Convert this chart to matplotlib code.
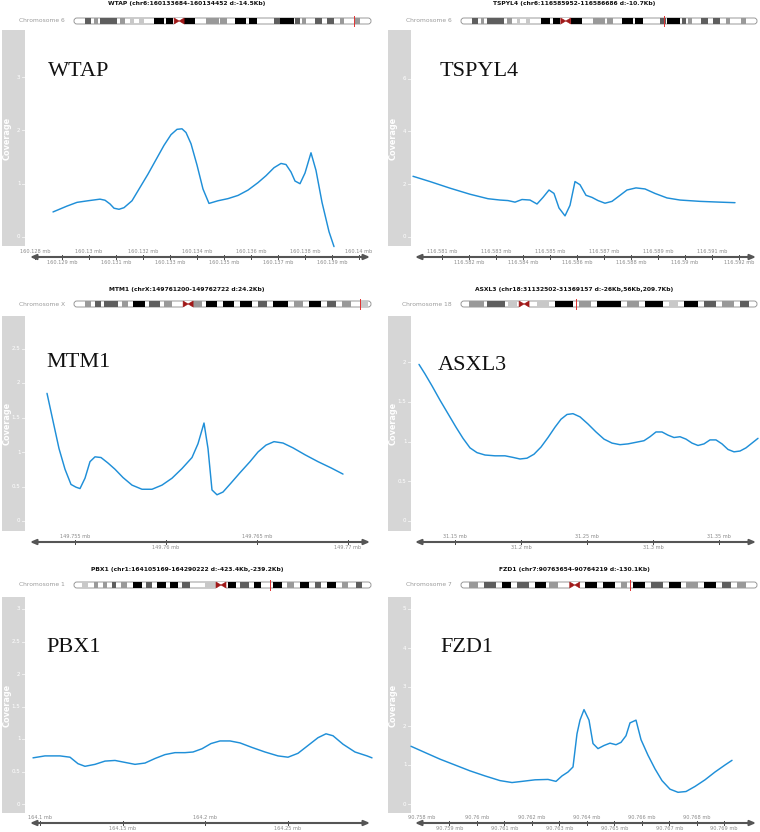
import matplotlib
matplotlib.use("Agg")
import matplotlib.pyplot as plt
from matplotlib.patches import Rectangle, FancyBboxPatch, Polygon

# ---------------- data ----------------
wtap_x = [160.128667, 160.129185, 160.129556, 160.129963, 160.130407, 160.130593, 160.130778,
          160.130926, 160.131111, 160.131296, 160.131593, 160.131889, 160.132185, 160.132481,
          160.132778, 160.133037, 160.133259, 160.133444, 160.133593, 160.133778, 160.134000,
          160.134222, 160.134444, 160.134778, 160.135148, 160.135519, 160.135889, 160.136259,
          160.136556, 160.136852, 160.137111, 160.137296, 160.137481, 160.137630, 160.137815,
          160.138000, 160.138222, 160.138407, 160.138630, 160.138889, 160.139074]
wtap_cov = [0.47, 0.58, 0.65, 0.68, 0.71, 0.69, 0.62, 0.54, 0.52, 0.55, 0.68, 0.93, 1.18, 1.45,
            1.72, 1.92, 2.02, 2.03, 1.96, 1.75, 1.35, 0.90, 0.63, 0.68, 0.72, 0.78, 0.88, 1.02,
            1.15, 1.30, 1.38, 1.36, 1.22, 1.05, 1.00, 1.20, 1.58, 1.25, 0.65, 0.10, -0.18]

tspyl4_x = [116.579926, 116.580556, 116.581296, 116.582037, 116.582704, 116.583148, 116.583444,
            116.583704, 116.583963, 116.584259, 116.584519, 116.584741, 116.584963, 116.585148,
            116.585333, 116.585556, 116.585741, 116.585926, 116.586111, 116.586333, 116.586556,
            116.586778, 116.587037, 116.587296, 116.587556, 116.587852, 116.588185, 116.588519,
            116.588889, 116.589333, 116.589815, 116.590556, 116.591296, 116.591852]
tspyl4_cov = [2.30, 2.10, 1.85, 1.62, 1.45, 1.40, 1.38, 1.32, 1.42, 1.40, 1.25, 1.50, 1.78, 1.65,
              1.10, 0.80, 1.20, 2.10, 1.98, 1.58, 1.50, 1.38, 1.28, 1.35, 1.55, 1.78, 1.86, 1.82,
              1.65, 1.48, 1.40, 1.35, 1.32, 1.30]

mtm1_x = [149.753462, 149.753791, 149.754121, 149.754451, 149.754780, 149.755055, 149.755275,
          149.755549, 149.755824, 149.756099, 149.756429, 149.756813, 149.757198, 149.757637,
          149.758132, 149.758681, 149.759231, 149.759780, 149.760330, 149.760879, 149.761429,
          149.761758, 149.762088, 149.762308, 149.762527, 149.762802, 149.763132, 149.763571,
          149.764066, 149.764615, 149.765055, 149.765495, 149.765934, 149.766429, 149.766978,
          149.767637, 149.768352, 149.769066, 149.769725]
mtm1_cov = [1.85, 1.45, 1.05, 0.75, 0.53, 0.49, 0.47, 0.62, 0.86, 0.93, 0.92, 0.84, 0.75, 0.63,
            0.52, 0.46, 0.46, 0.52, 0.62, 0.76, 0.92, 1.12, 1.42, 1.05, 0.45, 0.38, 0.42, 0.55,
            0.70, 0.86, 1.00, 1.10, 1.15, 1.13, 1.06, 0.96, 0.86, 0.77, 0.68]

asxl3_x = [31.122727, 31.127273, 31.132576, 31.138636, 31.144697, 31.150758, 31.156061, 31.161364,
           31.166667, 31.172727, 31.180303, 31.187879, 31.193939, 31.199242, 31.204545, 31.209848,
           31.215152, 31.220455, 31.225758, 31.230303, 31.234848, 31.239394, 31.244697, 31.250758,
           31.256818, 31.262879, 31.268939, 31.275000, 31.281061, 31.287121, 31.293182, 31.297727,
           31.302273, 31.306818, 31.311364, 31.315909, 31.320455, 31.325000, 31.329545, 31.334091,
           31.338636, 31.343182, 31.347727, 31.352273, 31.356818, 31.361364, 31.365909, 31.370455,
           31.375000, 31.379545]
asxl3_cov = [1.97, 1.85, 1.70, 1.52, 1.35, 1.18, 1.04, 0.92, 0.86, 0.83, 0.82, 0.82, 0.80, 0.78,
             0.79, 0.84, 0.93, 1.05, 1.18, 1.28, 1.34, 1.35, 1.31, 1.22, 1.12, 1.03, 0.98, 0.96,
             0.97, 0.99, 1.01, 1.06, 1.12, 1.12, 1.08, 1.05, 1.06, 1.03, 0.98, 0.95, 0.97, 1.02,
             1.02, 0.97, 0.90, 0.87, 0.88, 0.92, 0.98, 1.04]

pbx1_x = [164.095758, 164.103030, 164.112121, 164.118182, 164.123030, 164.127273, 164.133333,
          164.139394, 164.145455, 164.151515, 164.157576, 164.163636, 164.169697, 164.175758,
          164.181818, 164.187879, 164.192727, 164.198182, 164.203636, 164.209091, 164.215152,
          164.221212, 164.228485, 164.236364, 164.244242, 164.250303, 164.256364, 164.262424,
          164.268485, 164.273333, 164.277576, 164.283636, 164.290909, 164.298182, 164.301212]
pbx1_cov = [0.71, 0.74, 0.74, 0.72, 0.62, 0.58, 0.61, 0.66, 0.67, 0.64, 0.61, 0.63, 0.70, 0.76,
            0.79, 0.79, 0.80, 0.85, 0.93, 0.97, 0.97, 0.94, 0.87, 0.80, 0.74, 0.72, 0.78, 0.90,
            1.02, 1.08, 1.05, 0.92, 0.80, 0.74, 0.71]

fzd1_x = [90.757611, 90.758120, 90.758665, 90.759211, 90.759756, 90.760302, 90.760847, 90.761284,
          90.761647, 90.762120, 90.762593, 90.762884, 90.763102, 90.763320, 90.763502, 90.763647,
          90.763756, 90.763902, 90.764084, 90.764229, 90.764411, 90.764629, 90.764847, 90.765065,
          90.765247, 90.765429, 90.765575, 90.765793, 90.765975, 90.766229, 90.766484, 90.766738,
          90.767029, 90.767320, 90.767611, 90.767938, 90.768302, 90.768665, 90.769029, 90.769284]
fzd1_cov = [1.48, 1.32, 1.15, 1.00, 0.85, 0.72, 0.60, 0.55, 0.58, 0.62, 0.63, 0.58, 0.72, 0.82,
            0.95, 1.80, 2.15, 2.42, 2.15, 1.55, 1.42, 1.50, 1.56, 1.52, 1.58, 1.75, 2.08, 2.15,
            1.65, 1.25, 0.90, 0.60, 0.38, 0.30, 0.32, 0.45, 0.62, 0.82, 1.00, 1.12]

genes = ["WTAP", "TSPYL4", "MTM1", "ASXL3", "PBX1", "FZD1"]
titles = ["WTAP (chr6:160133684-160134452 d:-14.5Kb)",
          "TSPYL4 (chr6:116585952-116586686 d:-10.7Kb)",
          "MTM1 (chrX:149761200-149762722 d:24.2Kb)",
          "ASXL3 (chr18:31132502-31369157 d:-26Kb,56Kb,209.7Kb)",
          "PBX1 (chr1:164105169-164290222 d:-423.4Kb,-239.2Kb)",
          "FZD1 (chr7:90763654-90764219 d:-130.1Kb)"]
chrom_labels = ["Chromosome 6", "Chromosome 6", "Chromosome X",
                "Chromosome 18", "Chromosome 1", "Chromosome 7"]

wtap_xticks = [160.128, 160.129, 160.130, 160.131, 160.132, 160.133, 160.134,
               160.135, 160.136, 160.137, 160.138, 160.139, 160.140]
tspyl4_xticks = [116.581, 116.582, 116.583, 116.584, 116.585, 116.586, 116.587,
                 116.588, 116.589, 116.590, 116.591, 116.592]
mtm1_xticks = [149.755, 149.760, 149.765, 149.770]
asxl3_xticks = [31.15, 31.20, 31.25, 31.30, 31.35]
pbx1_xticks = [164.10, 164.15, 164.20, 164.25]
fzd1_xticks = [90.758, 90.759, 90.760, 90.761, 90.762, 90.763, 90.764,
               90.765, 90.766, 90.767, 90.768, 90.769]

wtap_yticks = [0, 1, 2, 3]
tspyl4_yticks = [0, 2, 4, 6]
mtm1_yticks = [0, 0.5, 1, 1.5, 2, 2.5]
asxl3_yticks = [0, 0.5, 1, 1.5, 2]
pbx1_yticks = [0, 0.5, 1, 1.5, 2, 2.5, 3]
fzd1_yticks = [0, 1, 2, 3, 4, 5]

# ideogram bands: (start, end, stain) as fraction of chromosome length
chr6_bands = [(0.041, 0.060, 'g75'), (0.071, 0.082, 'g50'), (0.091, 0.147, 'g75'),
              (0.158, 0.175, 'g50'), (0.192, 0.203, 'g25'), (0.220, 0.236, 'g25'),
              (0.272, 0.303, 'g100'), (0.311, 0.334, 'g100'), (0.370, 0.409, 'g100'),
              (0.446, 0.487, 'g50'), (0.492, 0.515, 'g50'), (0.543, 0.580, 'g100'),
              (0.588, 0.615, 'g100'), (0.671, 0.691, 'g75'), (0.693, 0.738, 'g100'),
              (0.744, 0.760, 'g75'), (0.766, 0.780, 'g50'), (0.810, 0.833, 'g75'),
              (0.850, 0.872, 'g75'), (0.894, 0.905, 'g50'), (0.944, 0.961, 'g50')]
chrX_bands = [(0.040, 0.060, 'g50'), (0.075, 0.095, 'g75'), (0.105, 0.150, 'g75'),
              (0.165, 0.185, 'g50'), (0.200, 0.240, 'g100'), (0.255, 0.290, 'g75'),
              (0.305, 0.330, 'g50'), (0.400, 0.430, 'g50'), (0.445, 0.480, 'g100'),
              (0.500, 0.540, 'g100'), (0.560, 0.600, 'g100'), (0.620, 0.650, 'g75'),
              (0.670, 0.720, 'g100'), (0.740, 0.770, 'g50'), (0.790, 0.830, 'g100'),
              (0.850, 0.880, 'g75'), (0.900, 0.930, 'g50'), (0.960, 0.985, 'g25')]
chr18_bands = [(0.030, 0.080, 'g50'), (0.090, 0.150, 'g75'), (0.160, 0.190, 'g25'),
               (0.260, 0.300, 'g25'), (0.320, 0.380, 'g100'), (0.400, 0.440, 'g50'),
               (0.460, 0.540, 'g100'), (0.560, 0.600, 'g50'), (0.620, 0.680, 'g100'),
               (0.700, 0.730, 'g25'), (0.750, 0.800, 'g100'), (0.820, 0.860, 'g75'),
               (0.880, 0.920, 'g50'), (0.940, 0.970, 'g75')]
chr1_bands = [(0.030, 0.050, 'g25'), (0.070, 0.085, 'g50'), (0.100, 0.115, 'g50'),
              (0.130, 0.145, 'g75'), (0.160, 0.180, 'g50'), (0.200, 0.230, 'g100'),
              (0.245, 0.265, 'g75'), (0.280, 0.310, 'g100'), (0.325, 0.350, 'g100'),
              (0.365, 0.390, 'g75'), (0.440, 0.500, 'g25'), (0.520, 0.545, 'g100'),
              (0.560, 0.590, 'g75'), (0.605, 0.630, 'g100'), (0.670, 0.700, 'g100'),
              (0.715, 0.740, 'g50'), (0.760, 0.790, 'g100'), (0.810, 0.830, 'g75'),
              (0.850, 0.880, 'g100'), (0.900, 0.920, 'g50'), (0.945, 0.965, 'g75')]
chr7_bands = [(0.030, 0.060, 'g50'), (0.080, 0.120, 'g75'), (0.140, 0.170, 'g100'),
              (0.190, 0.230, 'g75'), (0.250, 0.290, 'g100'), (0.300, 0.330, 'g50'),
              (0.420, 0.460, 'g100'), (0.480, 0.520, 'g100'), (0.540, 0.560, 'g50'),
              (0.580, 0.620, 'g100'), (0.640, 0.680, 'g75'), (0.700, 0.740, 'g100'),
              (0.760, 0.800, 'g50'), (0.820, 0.860, 'g100'), (0.880, 0.910, 'g75'),
              (0.930, 0.960, 'g50')]
centromeres = [0.355, 0.355, 0.385, 0.215, 0.495, 0.385]
gene_marks = [0.939, 0.683, 0.960, 0.390, 0.659, 0.570]

# ---------------- layout / style ----------------
W, H = 760, 832
fig = plt.figure(figsize=(W / 100, H / 100), dpi=100)
fig.patch.set_facecolor('white')


def px_axes(x0, y0, x1, y1):
    return fig.add_axes([x0 / W, 1 - y1 / H, (x1 - x0) / W, (y1 - y0) / H])


BLUE = '#1f8fd8'
BAND_GREY = '#d6d6d6'
STAIN = {'g25': '#c8c8c8', 'g50': '#999999', 'g75': '#5e5e5e', 'g100': '#000000'}

COLS = [dict(band=(2, 25), plot=(25, 375), off=0, line=(30, 370), ideo=(73, 372)),
        dict(band=(388, 411), plot=(411, 760), off=387, line=(415, 756), ideo=(460, 758))]
ROWS = [dict(title=4, chrom=21, top=30, bot=246, axis=257),
        dict(title=290, chrom=304, top=316, bot=531, axis=542),
        dict(title=570, chrom=585, top=597, bot=813, axis=823)]

series = [(wtap_x, wtap_cov), (tspyl4_x, tspyl4_cov), (mtm1_x, mtm1_cov),
          (asxl3_x, asxl3_cov), (pbx1_x, pbx1_cov), (fzd1_x, fzd1_cov)]
xticks_all = [wtap_xticks, tspyl4_xticks, mtm1_xticks, asxl3_xticks, pbx1_xticks, fzd1_xticks]
yticks_all = [wtap_yticks, tspyl4_yticks, mtm1_yticks, asxl3_yticks, pbx1_yticks, fzd1_yticks]
bands_all = [chr6_bands, chr6_bands, chrX_bands, chr18_bands, chr1_bands, chr7_bands]

# calibration: x (reference value, its pixel, pixels per Mb); y (pixel of zero, pixels per unit)
xcal = [(160.128, 35, 27000), (116.581, 442, 27000), (149.755, 75, 18200),
        (31.15, 455, 1320), (164.10, 40, 1650), (90.758, 421.7, 27500)]
ycal = [(237, 53.3), (237, 26.4), (521, 69.0), (521, 79.5), (804, 65.0), (804, 39.0)]
gene_pos = [(48, 72), (440, 72), (46, 363), (438, 366), (46, 648), (440, 648)]


def draw_ideogram(x0, x1, yc, bands, cen, mark):
    h = 11
    ax = px_axes(x0, yc - h / 2, x1, yc + h / 2)
    w = x1 - x0
    ax.set_xlim(0, w)
    ax.set_ylim(0, h)
    ax.axis('off')
    b0, bh = 2.5, 6
    outline = FancyBboxPatch((1, b0), w - 2, bh, boxstyle='round,pad=0,rounding_size=2.8',
                             fc='white', ec='#8a8a8a', lw=0.6, zorder=1)
    ax.add_patch(outline)
    for s, e, st in bands:
        r = Rectangle((s * w, b0), (e - s) * w, bh, fc=STAIN[st], ec='none', zorder=2)
        r.set_clip_path(outline)
        ax.add_patch(r)
    cx = cen * w
    wipe = Rectangle((cx - 5, b0 - 0.5), 10, bh + 1, fc='white', ec='none', zorder=3)
    ax.add_patch(wipe)
    ax.add_patch(Polygon([(cx - 5, b0), (cx - 5, b0 + bh), (cx, b0 + bh / 2)],
                         closed=True, fc='#a01818', ec='#a01818', lw=0.4, zorder=4))
    ax.add_patch(Polygon([(cx + 5, b0), (cx + 5, b0 + bh), (cx, b0 + bh / 2)],
                         closed=True, fc='#a01818', ec='#a01818', lw=0.4, zorder=4))
    ax.plot([mark * w, mark * w], [0.5, h - 0.5], color='#e03030', lw=0.7, zorder=5)


for i in range(6):
    col = COLS[i % 2]
    row = ROWS[i // 2]
    xs, ys = series[i]
    off = col['off']

    # title and ideogram
    fig.text((off + 187) / W, 1 - row['title'] / H, titles[i], ha='center', va='center',
             fontsize=4.3, fontweight='bold', color='#111111')
    fig.text((col['ideo'][0] - 8) / W, 1 - row['chrom'] / H, chrom_labels[i], ha='right',
             va='center', fontsize=4.3, color='#9a9a9a')
    draw_ideogram(col['ideo'][0], col['ideo'][1], row['chrom'], bands_all[i],
                  centromeres[i], gene_marks[i])

    # limits
    zero_px, ppu = ycal[i]
    ylim = ((zero_px - row['bot']) / ppu, (zero_px - row['top']) / ppu)
    ref_v, ref_px, ppmb = xcal[i]
    px0, px1 = col['plot']
    xlim = (ref_v + (px0 - ref_px) / ppmb, ref_v + (px1 - ref_px) / ppmb)

    # grey y-axis strip
    bax = px_axes(col['band'][0], row['top'], col['band'][1], row['bot'])
    bax.set_facecolor(BAND_GREY)
    bax.set_xlim(0, 1)
    bax.set_ylim(*ylim)
    for s in bax.spines.values():
        s.set_visible(False)
    bax.set_xticks([])
    bax.set_yticks([])
    for t in yticks_all[i]:
        bax.text(0.80, t, '{:g}'.format(t), ha='right', va='center', fontsize=4.0, color='white')
        bax.plot([0.86, 1.0], [t, t], color='#f4f4f4', lw=0.6)
    bax.text(0.24, sum(ylim) / 2, 'Coverage', rotation=90, ha='center', va='center',
             fontsize=5.9, color='white', fontweight='bold')

    # data panel
    ax = px_axes(px0, row['top'], px1, row['bot'])
    ax.set_xlim(*xlim)
    ax.set_ylim(*ylim)
    ax.axis('off')
    ax.plot(xs, ys, color=BLUE, lw=1.05, solid_capstyle='round', clip_on=False)

    # gene label
    gx, gy = gene_pos[i]
    fig.text(gx / W, 1 - gy / H, genes[i], ha='left', va='center', fontsize=16,
             family='Liberation Serif', color='#111111')

    # genomic x-axis track
    tax = px_axes(px0, row['axis'] - 10, px1, row['axis'] + 10)
    tax.set_xlim(*xlim)
    tax.set_ylim(-10, 10)
    tax.axis('off')
    l0 = xlim[0] + (col['line'][0] - px0) / ppmb
    l1 = xlim[0] + (col['line'][1] - px0) / ppmb
    tax.annotate('', xy=(l1, 0), xytext=(l0, 0),
                 arrowprops=dict(arrowstyle='<|-|>,head_length=0.35,head_width=0.15',
                                 color='#555555', lw=1.5, shrinkA=0, shrinkB=0))
    for k, t in enumerate(xticks_all[i]):
        tax.plot([t, t], [-2.2, 2.2], color='#444444', lw=0.7)
        lab = '{:g} mb'.format(t)
        if k % 2 == 0:
            tax.text(t, 3.2, lab, ha='center', va='bottom', fontsize=3.6, color='#8a8a8a')
        else:
            tax.text(t, -3.0, lab, ha='center', va='top', fontsize=3.6, color='#8a8a8a')

fig.savefig('out.png', dpi=100, facecolor='white')
